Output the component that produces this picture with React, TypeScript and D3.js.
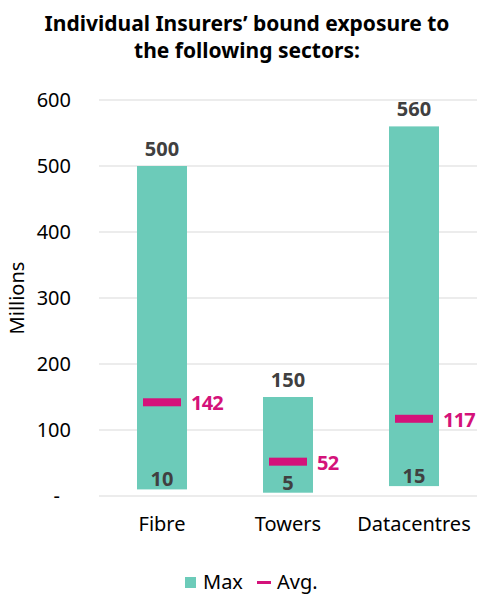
import React from "react";
import * as d3 from "d3";

const categories = ["Fibre", "Towers", "Datacentres"];
const maxValues = [500, 150, 560];
const minValues = [10, 5, 15];
const avgValues = [142, 52, 117];
const yTicks = [0, 100, 200, 300, 400, 500, 600];

const W = 477;
const H = 597;
const FONT = "'Noto Sans', 'Open Sans', sans-serif";
const TEAL = "#6CCBB9";
const MAGENTA = "#D4127A";
const DARK = "#404040";

export default function App() {
  const x = d3.scaleBand<string>().domain(categories).range([99, 477]).paddingInner(0).paddingOuter(0);
  const y = d3.scaleLinear().domain([0, 600]).range([496, 100]);
  const barW = 50;
  const avgW = 38;

  const data = categories.map((c, i) => ({
    c,
    max: maxValues[i],
    min: minValues[i],
    avg: avgValues[i],
  }));

  return (
    <div style={{ position: "absolute", left: 0, top: 0 }}>
      <svg width={W} height={H} style={{ display: "block" }} fontFamily={FONT}>
        <rect width={W} height={H} fill="#fff" />
        <text x={247} y={31} textAnchor="middle" fontSize={21} fontWeight={700} fill="#000">
          Individual Insurers’ bound exposure to
        </text>
        <text x={247} y={58} textAnchor="middle" fontSize={21} fontWeight={700} fill="#000">
          the following sectors:
        </text>

        {yTicks.map((t) => (
          <g key={t}>
            <line x1={99} x2={477} y1={y(t)} y2={y(t)} stroke="#d9d9d9" strokeWidth={1} />
            <text
              x={t === 0 ? 60 : 71}
              y={y(t) + 7}
              textAnchor="end"
              fontSize={20}
              fill="#000"
            >
              {t === 0 ? "-" : String(t)}
            </text>
          </g>
        ))}

        <text
          transform={`translate(24, ${y(300)}) rotate(-90)`}
          textAnchor="middle"
          fontSize={20}
          fill="#000"
        >
          Millions
        </text>

        {data.map((d) => {
          const cx = (x(d.c) as number) + x.bandwidth() / 2;
          return (
            <g key={d.c}>
              <rect
                x={cx - barW / 2}
                y={y(d.max)}
                width={barW}
                height={y(d.min) - y(d.max)}
                fill={TEAL}
              />
              <text x={cx} y={y(d.max) - 10} textAnchor="middle" fontSize={20} fontWeight={700} fill={DARK}>
                {d.max}
              </text>
              <text x={cx} y={y(d.min) - 3} textAnchor="middle" fontSize={20} fontWeight={700} fill={DARK}>
                {d.min}
              </text>
              <rect x={cx - avgW / 2} y={y(d.avg) - 4} width={avgW} height={8} fill={MAGENTA} />
              <text
                x={cx + avgW / 2 + 10}
                y={y(d.avg) + 8}
                fontSize={20}
                fontWeight={700}
                letterSpacing={-0.8}
                fill={MAGENTA}
              >
                {d.avg}
              </text>
            </g>
          );
        })}

        {categories.map((c) => (
          <text
            key={c}
            x={(x(c) as number) + x.bandwidth() / 2}
            y={531}
            textAnchor="middle"
            fontSize={20}
            fill="#000"
          >
            {c}
          </text>
        ))}

        <rect x={185} y={577} width={11} height={11} fill={TEAL} />
        <text x={203} y={589} fontSize={20} fill="#000">Max</text>
        <rect x={257} y={581} width={14} height={3} fill={MAGENTA} />
        <text x={277} y={589} fontSize={20} fill="#000">Avg.</text>
      </svg>
    </div>
  );
}
